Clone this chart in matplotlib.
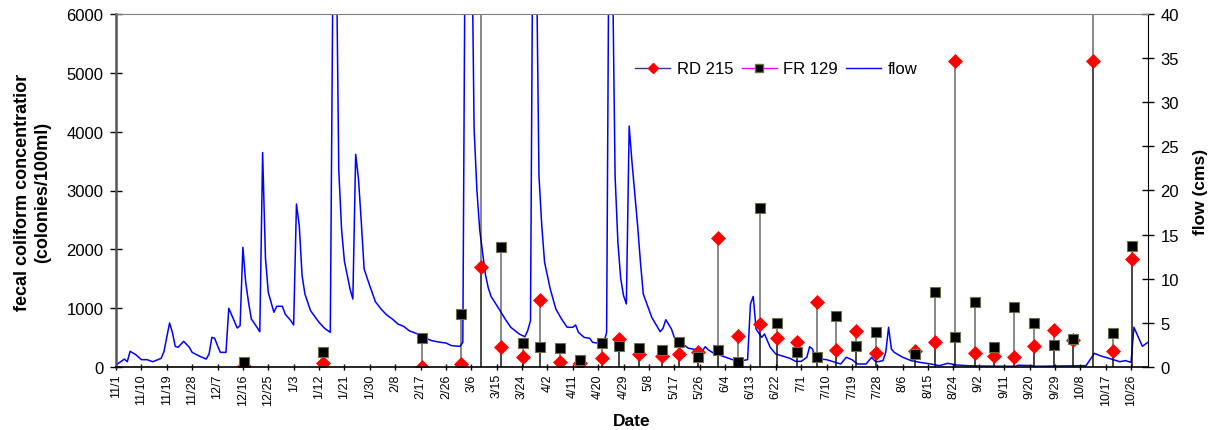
import numpy as np
import pandas as pd
import matplotlib
matplotlib.use("Agg")
import matplotlib.pyplot as plt
from matplotlib.lines import Line2D

plt.rcParams['font.family'] = ['Liberation Sans', 'DejaVu Sans']

# 
# Data
# 
start = pd.Timestamp("2003-11-01")
end = pd.Timestamp("2004-11-01")

sample_dates = ["2003-12-16", "2004-01-13", "2004-02-17", "2004-03-02", "2004-03-09",
                "2004-03-16", "2004-03-24", "2004-03-30", "2004-04-06", "2004-04-13",
                "2004-04-21", "2004-04-27", "2004-05-04", "2004-05-12", "2004-05-18",
                "2004-05-25", "2004-06-01", "2004-06-08", "2004-06-16", "2004-06-22",
                "2004-06-29", "2004-07-06", "2004-07-13", "2004-07-20", "2004-07-27",
                "2004-08-10", "2004-08-17", "2004-08-24", "2004-08-31", "2004-09-07",
                "2004-09-14", "2004-09-21", "2004-09-28", "2004-10-05", "2004-10-12",
                "2004-10-19", "2004-10-26"]
rd215 = [10, 68, 5, 51, 1695, 335, 176, 1144, 90, 68, 148, 476, 221, 181, 215,
         261, 2199, 521, 731, 487, 419, 1111, 289, 618, 238, 267, 431, 5196, 238,
         192, 175, 357, 634, 460, 5197, 272, 1841]
fr129 = [90, 260, 493, 900, 8000, 2046, 408, 345, 328, 119, 402, 351, 328, 294, 419,
         176, 294, 90, 2703, 748, 261, 164, 867, 363, 589, 221, 1281, 516, 1099,
         345, 1025, 753, 369, 476, 8000, 573, 2062]

# flow: days since 11/1/2003 and cms
flow_day = [0, 3, 4, 5, 7, 9, 11, 13, 14, 16, 17, 19, 20, 21, 22, 24, 26, 27, 30, 32,
            33, 34, 35, 36, 37, 39, 40, 42, 43, 44, 45, 46, 47, 48, 50, 51, 52, 53, 54, 56,
            57, 59, 60, 62, 63, 64, 65, 66, 67, 69, 72, 74, 76, 77, 78, 79, 80, 81, 83, 84,
            85, 86, 87, 88, 90, 92, 94, 96, 98, 100, 102, 104, 107, 109, 112, 115, 117, 119, 122, 123,
            124, 125, 126, 127, 128, 129, 130, 131, 132, 133, 134, 136, 138, 140, 143, 145, 146, 147, 148, 149,
            150, 151, 152, 154, 156, 158, 160, 162, 163, 164, 166, 168, 169, 171, 173, 174, 175, 176, 177, 178,
            179, 180, 181, 182, 183, 185, 186, 187, 190, 193, 194, 195, 197, 198, 201, 203, 206, 208, 209, 210,
            212, 214, 217, 219, 222, 224, 225, 226, 227, 229, 230, 232, 234, 236, 239, 241, 243, 245, 246, 247,
            248, 250, 252, 255, 257, 259, 261, 263, 266, 268, 269, 270, 271, 272, 273, 274, 275, 276, 279, 282,
            285, 289, 292, 295, 298, 302, 308, 319, 320, 325, 326, 344, 347, 349, 353, 356, 358, 360, 361, 364,
            366]
flow_cms = [0.23, 0.9, 0.6, 1.78, 1.4, 0.83, 0.83, 0.6, 0.72, 0.98, 1.74, 4.98, 3.93, 2.34, 2.23, 2.91, 2.23, 1.66, 1.17, 0.9,
            1.47, 3.36, 3.25, 2.42, 1.66, 1.66, 6.65, 5.17, 4.42, 4.68, 13.56, 9.6, 7.33, 5.44, 4.5, 4.0, 24.3, 12.4, 8.46, 6.2,
            6.88, 6.88, 6.0, 5.25, 4.76, 18.47, 16.0, 10.35, 8.27, 6.38, 5.06, 4.38, 3.93, 48, 52, 22.4, 15.6, 12.0, 8.84, 7.7,
            24.1, 21.3, 16.4, 11.1, 9.2, 7.4, 6.57, 5.9, 5.44, 4.87, 4.61, 4.11, 3.74, 3.36, 2.98, 2.8, 2.72, 2.42, 2.34, 2.8,
            60, 70, 55, 27, 20, 15.5, 13, 10.5, 9, 8, 7.5, 6.5, 5.44, 4.5, 3.74, 3.43, 4.11, 5.25, 60, 50,
            21.7, 16.0, 11.86, 8.84, 6.57, 5.44, 4.5, 4.5, 4.76, 3.93, 3.36, 3.25, 2.8, 2.69, 2.69, 3.93, 60, 48, 21.7, 14.1,
            10.0, 8.1, 7.14, 27.3, 23.2, 16.0, 11.86, 8.27, 5.63, 4.0, 4.38, 5.36, 4.3, 3.36, 2.6, 2.12, 1.96, 1.85, 2.3, 1.96,
            1.55, 1.36, 1.02, 0.79, 0.72, 0.83, 7.14, 8.0, 4.3, 3.36, 3.74, 2.23, 1.47, 1.28, 0.98, 0.64, 0.64, 1.1, 2.3, 2.04,
            1.1, 0.9, 0.83, 0.53, 0.34, 1.1, 0.83, 0.34, 0.34, 1.1, 0.72, 0.6, 0.65, 0.72, 1.66, 4.5, 2.04, 1.66, 1.1, 0.72,
            0.53, 0.34, 0.15, 0.42, 0.23, 0.15, 0.1, 0.08, 0.2, 0.15, 0.08, 0.15, 1.55, 1.28, 0.9, 0.6, 0.72, 0.53, 4.5, 2.35,
            2.8]

# 
# Figure and axes
# 
W, H = 1213, 431
fig = plt.figure(figsize=(W / 100, H / 100), dpi=100)
ax = fig.add_axes([116 / W, 1 - 368 / H, (1148 - 116) / W, (368 - 15) / H])
ax2 = ax.twinx()

# flow on the secondary axis, drawn behind the sample points
flow_x = start + pd.to_timedelta(flow_day, unit="D")
ax2.plot(flow_x, flow_cms, color="#0000FF", lw=1.1)
ax2.set_ylim(0, 40)
ax2.set_yticks(np.arange(0, 41, 5))

ax.set_zorder(ax2.get_zorder() + 1)
ax.patch.set_visible(False)

# samples sit in the middle of their day (Excel date axis)
sx = pd.to_datetime(sample_dates) + pd.Timedelta(hours=12)
ax.vlines(sx, 0, rd215, colors="black", alpha=0.5, lw=1.3)
ax.vlines(sx, 0, fr129, colors="black", alpha=0.5, lw=1.3)
ax.plot(sx, rd215, ls="none", marker="D", ms=7, mfc="red", mec="red", mew=0.5)
ax.plot(sx, fr129, ls="none", marker="s", ms=7, mfc="black", mec="#6e6e48", mew=0.8)

ax.set_ylim(0, 6000)
ax.set_yticks(np.arange(0, 6001, 1000))
ax.set_xlim(start, end)

ticks = pd.date_range(start, end, freq="9D")
ax.set_xticks(ticks)
ax.set_xticklabels([f"{d.month}/{d.day}" for d in ticks], rotation=90, fontsize=9)

# Axis styling
ax.tick_params(axis="y", direction="inout", length=8, width=1, labelsize=12, pad=5)
ax.tick_params(axis="x", direction="inout", length=5, width=1, pad=2)
ax2.tick_params(axis="y", direction="inout", length=8, width=1, labelsize=12, pad=5)

ax.spines["left"].set_color("#555555")
ax.spines["left"].set_linewidth(1.8)
ax.spines["top"].set_color("#808080")
ax.spines["right"].set_visible(False)
ax.spines["bottom"].set_linewidth(1.2)
for s in ["left", "top", "bottom"]:
    ax2.spines[s].set_visible(False)
ax2.spines["right"].set_color("black")

# Labels
fig.text(32.5 / W, 1 - 192 / H, "fecal coliform concentratior\n(colonies/100ml)",
         rotation=90, ha="center", va="center", fontsize=13, fontweight="bold",
         linespacing=1.3, multialignment="center")
fig.text(632 / W, 1 - 421.5 / H, "Date", ha="center", va="center",
         fontsize=12.5, fontweight="bold")
fig.text(1200 / W, 1 - 192 / H, "flow (cms)", rotation=90, ha="center", va="center",
         fontsize=12.5, fontweight="bold")

# Legend
handles = [
    Line2D([], [], color="#333399", lw=1, marker="D", ms=5.5, mfc="red", mec="red"),
    Line2D([], [], color="#FF00FF", lw=1, marker="s", ms=5.5, mfc="black", mec="#6e6e48"),
    Line2D([], [], color="#0000FF", lw=1),
]
fig.legend(handles, ["RD 215", "FR 129", "flow"], loc="center left",
           bbox_to_anchor=(635 / W, 1 - 70 / H), ncol=3, frameon=False, fontsize=12,
           handlelength=2.1, handletextpad=0.4, columnspacing=0.5,
           borderpad=0, borderaxespad=0)

plt.savefig("out.png", dpi=100)
plt.close()
